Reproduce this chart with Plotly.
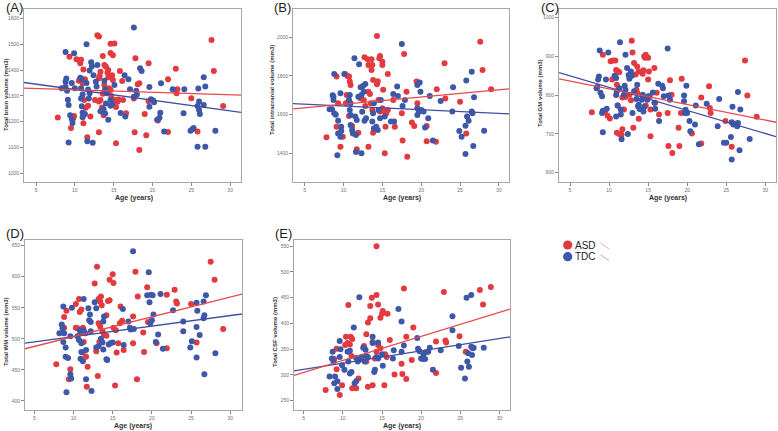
import plotly.graph_objects as go

# ---------------- data (age in years, volume in mm3) ----------------
tdc_A = [(8.8,1470),(9.9,1465),(11.5,1500),(17.6,1565),
(8.9,1367),(8.8,1355),(8.8,1335),(9.0,1320),(8.3,1330),
(9.1,1285),(9.2,1265),(9.4,1225),(9.6,1210),(9.7,1195),(9.2,1119),
(9.6,1350),(10.0,1330),
(10.7,1370),(10.9,1365),(10.8,1330),(11.0,1305),(10.8,1290),(10.9,1260),(11.0,1235),(11.0,1217),(11.3,1230),
(11.5,1350),(11.7,1325),(11.8,1290),(11.9,1310),
(12.1,1430),(12.2,1415),(11.9,1398),(12.4,1380),
(11.6,1124),(12.3,1118),
(12.9,1420),(12.7,1355),(12.8,1336),
(13.8,1359),(13.9,1326),(14.1,1310),
(13.7,1248),(13.9,1232),(13.3,1240),
(14.3,1207),(14.0,1270),(14.8,1268),(14.6,1262),(14.6,1285),(15.1,1342),
(15.9,1234),(16.5,1220),(16.4,1380),(16.9,1365),(17.1,1326),(17.6,1297),
(17.9,1320),(18.0,1305),
(18.4,1407),(18.6,1397),
(19.6,1334),(19.6,1258),(19.8,1287),(20.1,1282),(20.2,1275),
(20.6,1207),(20.9,1215),(21.0,1235),(21.5,1162),(21.1,1349),
(22.6,1326),(24.1,1326),(24.0,1233),
(24.9,1165),(25.1,1170),(25.3,1175),
(25.8,1103),(26.8,1103),
(25.9,1329),(26.0,1278),(25.8,1261),(26.0,1245),(26.1,1230),(26.6,1372),(26.6,1265),(26.8,1336),
(28.1,1165)]

asd_A = [(7.8,1216),(9.3,1452),(9.5,1175),(9.8,1213),(9.9,1222),
(10.2,1442),(10.6,1436),(10.8,1440),(10.7,1427),(11.1,1402),
(10.5,1359),(11.0,1349),(11.3,1365),
(11.2,1284),(11.4,1254),(11.1,1194),(11.6,1140),
(12.0,1220),(11.7,1262),
(12.9,1535),(13.1,1530),
(13.1,1368),(13.2,1377),(13.3,1394),
(12.6,1284),(13.1,1278),(13.3,1284),
(13.1,1159),
(13.6,1455),(13.8,1420),(14.0,1413),(14.2,1390),(14.3,1372),
(13.8,1342),(14.0,1326),(13.6,1308),
(13.5,1255),(13.7,1225),
(14.6,1466),(14.9,1458),
(14.6,1502),(15.1,1503),
(14.3,1400),(14.8,1380),(14.9,1362),
(14.4,1330),(14.6,1323),(14.7,1300),
(15.2,1284),(15.6,1286),(15.5,1277),(15.3,1257),
(15.3,1116),
(15.8,1397),(16.1,1358),
(16.6,1233),(16.2,1284),
(17.8,1446),(17.7,1159),(17.6,1290),
(18.1,1345),(18.3,1349),
(18.3,1090),
(19.0,1230),(19.2,1147),
(19.5,1427),(19.5,1279),(20.7,1205),
(22.0,1365),(22.0,1160),
(23.0,1405),(23.2,1326),(23.1,1310),
(25.0,1291),(25.8,1162),
(27.6,1517),(27.9,1397),
(29.1,1261)]

tdc_B = [(8.8,1810),(8.7,1693),(8.6,1700),(8.7,1676),(8.5,1628),(8.8,1607),(9.0,1600),(9.3,1569),(9.3,1503),(9.6,1486),(9.2,1390),
(8.2,1628),
(10.1,1810),(9.6,1710),(9.7,1538),(9.7,1515),
(10.8,1702),(10.7,1676),(10.9,1659),(10.8,1624),(10.9,1598),(10.9,1547),(11.1,1521),(11.2,1507),
(11.4,1891),(12.0,1860),
(11.5,1590),(11.7,1572),(11.6,1495),
(11.6,1407),(12.3,1400),
(11.9,1693),(12.2,1741),(12.5,1748),(12.8,1759),(12.6,1719),(12.3,1702),(12.4,1615),(12.7,1569),(12.9,1581),
(13.7,1564),(13.9,1529),(13.8,1607),(13.9,1659),
(14.2,1538),(14.4,1521),(14.7,1581),(14.5,1624),(14.8,1676),
(15.3,1590),(16.1,1564),(16.5,1564),(16.4,1707),(17.0,1697),(16.9,1745),
(17.5,1965),(17.6,1645),(17.9,1676),
(19.5,1753),(19.8,1766),(19.9,1719),(19.5,1633),(19.7,1616),(20.0,1624),(19.5,1598),(20.3,1616),(20.5,1534),(20.9,1581),
(21.1,1697),(21.5,1466),
(22.5,1671),
(24.0,1616),(24.1,1741),
(24.9,1516),(25.2,1486),
(25.7,1397),(25.8,1776),(25.7,1543),(25.9,1590),(26.1,1569),
(26.5,1822),(26.5,1616),(26.6,1607),(26.7,1438),(26.8,1690),
(28.1,1517)]

asd_B = [(7.8,1483),
(9.1,1797),(9.1,1538),(9.3,1659),
(9.6,1434),(9.9,1486),
(10.2,1810),(10.5,1800),(10.7,1797),(10.8,1771),(10.9,1753),(10.4,1702),(10.3,1659),
(10.7,1593),(11.1,1541),(11.2,1503),
(11.7,1421),(11.9,1507),
(12.2,1684),
(12.7,1897),(13.1,1886),(13.2,1857),
(12.6,1676),(12.8,1645),
(13.2,1434),(13.2,1719),(13.4,1707),
(13.6,1886),(13.7,1857),(13.6,1831),(13.8,1779),
(13.5,1659),(13.7,1624),
(13.8,1507),
(14.3,2007),(14.4,1772),(14.3,1757),
(14.7,1903),(14.6,1891),(15.0,1874),(15.0,1857),
(14.5,1676),
(14.7,1616),(15.0,1633),
(15.1,1729),(15.3,1616),
(15.4,1538),(15.5,1607),(15.7,1624),
(15.3,1400),
(15.7,1810),
(16.4,1676),
(16.6,1538),
(17.5,1607),(17.6,1466),
(17.8,1914),
(18.1,1719),(18.2,1383),
(18.8,1559),(19.1,1541),
(19.4,1771),(19.5,1659),
(20.7,1541),(20.7,1462),
(22.0,1731),(21.9,1460),
(23.0,1866),(23.1,1684),
(25.0,1667),(25.8,1503),
(27.6,1977),(27.9,1831),
(29.0,1731)]

tdc_C = [(8.8,915),(8.7,848),(8.6,840),(8.5,821),(8.4,818),(8.9,806),(9.1,797),
(9.1,754),(9.2,704),(9.2,760),
(9.9,910),(9.6,840),(9.7,765),
(10.7,850),(10.9,844),(10.9,800),(11.0,810),(10.9,745),(11.1,773),
(11.3,818),(11.4,936),(11.5,763),(11.5,750),
(11.6,686),(12.4,700),
(12.1,904),(12.3,870),(12.5,852),(12.6,842),
(12.0,824),(12.1,814),(11.9,801),
(12.8,861),(12.9,850),(13.0,754),
(13.2,810),(13.5,790),(13.6,827),(13.7,771),(13.9,764),(13.8,775),
(14.2,788),(14.3,801),
(14.4,758),(14.5,770),
(14.9,788),(15.0,797),
(15.8,780),(15.9,765),(15.6,807),
(16.3,829),(16.4,733),
(16.8,824),(16.9,818),(17.0,797),
(17.5,920),(17.6,799),
(17.8,788),
(19.6,799),(19.6,784),(19.7,754),(19.9,824),(20.0,754),(19.8,762),
(20.3,733),(20.4,707),
(21.0,724),(21.1,773),
(21.5,673),
(22.5,778),(24.1,790),(23.9,720),
(24.7,677),(25.0,677),
(25.6,692),(25.7,634),(25.8,770),(25.9,724),(25.7,730),(26.2,726),
(26.5,808),(26.5,728),(26.4,720),
(26.7,658),(26.8,763),
(28.0,687)]

asd_C = [(7.8,756),
(9.2,904),(9.5,758),(9.8,747),(10.1,740),
(10.2,887),(10.5,889),(10.8,889),(10.4,840),
(10.9,865),(11.1,862),(11.3,859),(11.0,827),
(11.1,773),(11.0,703),(11.3,700),
(11.6,698),(11.7,712),
(11.7,794),(11.9,763),
(12.1,795),
(12.9,940),(13.0,910),(13.2,883),
(12.6,801),(12.8,787),
(13.1,716),
(13.4,853),(13.6,874),(13.8,861),
(13.5,814),(13.6,806),
(13.8,739),
(14.3,855),(14.4,864),
(14.5,900),(14.7,904),(14.6,896),(15.0,896),
(14.8,793),(14.7,773),
(15.1,861),(15.0,840),
(15.2,797),(15.3,763),
(15.3,694),
(15.8,870),(15.9,780),
(16.1,806),(16.4,750),
(17.5,754),(17.6,669),
(17.8,838),
(18.0,801),(18.1,651),
(18.9,716),(19.0,669),
(19.3,842),(19.2,754),
(20.6,701),
(21.8,794),(21.8,675),
(22.8,823),(23.0,754),(22.9,767),
(24.9,733),
(25.7,667),
(27.4,889),(27.7,799),
(28.9,744)]

tdc_D = [(8.7,552),(8.5,523),(8.6,517),(8.2,509),(8.8,509),(8.7,495),(9.0,486),(9.0,471),(9.3,469),(9.1,414),(9.6,443),(9.7,436),
(9.8,550),(9.6,504),
(10.5,504),
(10.8,514),(10.9,509),(10.7,498),(11.0,493),(11.0,479),
(10.9,468),(11.2,464),
(11.3,564),
(11.3,514),(11.5,509),
(11.6,482),(11.6,435),
(11.9,549),(12.1,539),(12.0,530),(12.2,527),(12.3,416),
(12.2,512),
(12.7,559),(12.9,549),(12.9,486),(13.2,488),
(13.5,500),
(13.7,494),(13.8,483),
(13.9,536),(13.8,528),
(14.2,467),(14.3,466),
(14.5,491),(14.7,493),
(15.0,494),
(16.3,548),(16.4,490),
(17.0,528),(17.2,518),(17.3,515),
(17.6,641),
(17.7,516),
(19.4,570),(19.6,607),(19.7,559),(19.9,571),(20.1,570),(19.8,525),(20.0,530),
(20.2,539),
(20.5,495),(20.8,507),
(21.1,572),(21.4,484),
(22.7,546),
(24.0,528),(24.0,512),
(24.9,486),(25.1,496),
(25.7,558),(25.8,545),(25.7,519),(25.7,470),(26.1,506),
(26.6,560),(26.6,533),(26.7,538),(26.9,570),(26.7,443),
(28.1,477)]

asd_D = [(7.8,459),
(8.8,535),(9.1,545),(8.8,518),
(9.6,451),(9.4,435),
(10.3,556),(10.7,564),(10.8,543),(11.0,547),
(10.3,518),(10.5,517),
(11.2,518),
(11.2,478),(11.3,495),
(11.6,471),
(11.8,455),(11.7,423),
(12.7,589),(13.0,616),(13.2,564),(13.5,568),
(13.2,525),(13.4,520),
(13.3,495),(12.9,480),(13.1,440),
(13.6,554),(13.4,560),
(13.9,506),(14.2,505),(13.7,512),
(14.2,538),(14.4,561),(14.6,562),
(14.6,595),(15.1,590),(15.0,604),
(15.1,518),(15.4,514),
(15.5,478),
(15.3,425),
(15.7,493),
(15.9,525),
(16.0,552),(16.2,529),
(16.4,482),
(17.6,493),(17.6,536),
(17.9,608),
(18.2,568),
(18.1,435),
(18.9,510),(19.0,479),
(19.4,583),(19.5,527),
(20.6,493),
(21.9,571),(21.9,485),
(22.9,579),(23.1,560),(23.2,557),
(25.0,556),
(25.7,494),
(27.5,624),(28.0,595),
(29.1,516)]

tdc_E = [(8.3,297),(8.7,345),(8.6,332),(8.8,326),(9.0,297),(8.9,284),(9.3,288),(9.3,273),
(9.6,366),(9.7,350),(9.9,319),(9.6,335),
(10.2,310),
(10.6,345),(10.9,347),(10.7,326),(10.9,303),(11.1,306),
(11.4,392),(11.5,284),(11.7,288),
(11.7,333),(11.9,326),
(12.1,451),(12.1,329),(12.4,335),
(12.6,353),(12.9,349),(13.0,337),
(12.8,326),(13.2,335),
(13.8,374),(13.8,362),
(14.0,306),(14.1,310),
(14.3,335),(14.5,363),(14.5,332),
(15.0,340),(15.1,318),
(16.4,332),(16.5,348),
(17.1,428),(17.5,404),
(17.5,345),
(17.8,357),
(19.5,372),(19.6,351),(19.8,346),(20.0,332),(20.2,331),(20.5,331),(20.3,340),
(20.9,345),
(21.1,353),
(21.5,310),
(22.5,348),
(24.0,414),(24.0,387),
(24.8,356),
(25.1,314),
(25.6,293),(25.9,326),(25.8,450),(26.0,342),(26.1,316),
(26.4,455),(26.4,355),(26.6,352),(26.5,339),
(26.7,353),
(28.0,353)]

asd_E = [(7.8,271),
(8.9,331),(9.2,351),(9.2,311),(9.6,261),(9.9,280),
(10.3,358),(10.4,374),(10.6,362),
(10.7,436),(10.9,359),(11.0,374),(11.2,370),
(11.1,337),(11.2,274),
(11.7,274),
(12.0,293),
(12.7,356),(13.0,379),
(13.0,326),
(13.2,402),(13.5,410),
(13.2,277),
(13.5,434),(13.7,450),(13.8,364),(13.8,280),
(14.1,332),(14.3,345),
(14.3,455),(14.3,550),(14.5,437),
(14.5,358),(14.8,352),
(14.8,411),(15.0,419),(15.1,424),
(15.3,280),
(15.4,340),(15.6,335),
(15.7,419),
(16.0,368),
(16.6,301),
(17.5,322),(17.6,302),
(17.8,468),
(18.1,374),(18.1,292),
(19.0,392),(18.8,329),
(20.6,344),
(21.9,365),(21.9,304),
(22.9,461),(23.1,367),(23.2,363),
(24.9,375),
(25.7,345),
(27.5,465),(27.9,437),
(28.9,471)]

# fitted regression lines: volume at the left and right edge of the age axis
fit_asd_A = [1330, 1303]; fit_tdc_A = [1352, 1236]
fit_asd_B = [1630, 1733]; fit_tdc_B = [1657, 1604]
fit_asd_C = [842, 730];   fit_tdc_C = [858, 693]
fit_asd_D = [484, 572];   fit_tdc_D = [493, 540]
fit_asd_E = [299, 428];   fit_tdc_E = [308, 374]

panel_labels = ["(A)", "(B)", "(C)", "(D)", "(E)"]
y_titles = ["Total brain volume (mm3)", "Total intracranial volume (mm3)",
            "Total GM volume (mm3)", "Total WM volume (mm3)", "Total CSF volume (mm3)"]
x_title = "Age (years)"
x_ticks = [5, 10, 15, 20, 25, 30]
y_ticks_A = [1000, 1100, 1200, 1300, 1400, 1500, 1600]
y_ticks_B = [1400, 1600, 1800, 2000]
y_ticks_C = [600, 700, 800, 900, 1000]
y_ticks_D = [400, 450, 500, 550, 600, 650]
y_ticks_E = [250, 300, 350, 400, 450, 500, 550]
groups = ["ASD", "TDC"]

# ---------------- layout helpers ----------------
W, H = 778, 431
RED, BLUE = "#E23A3F", "#3D58A8"
RED_L, BLUE_L = "#E8474C", "#3F4FA0"
FONT = "Liberation Sans, Arial, sans-serif"

def xdom(a, b):
    return [a / W, b / W]

def ydom(top, bottom):
    return [1 - bottom / H, 1 - top / H]

# pixel placement: frame box, x-title centre, y-title centre, panel label centre
panels = [
    dict(tdc=tdc_A, asd=asd_A, fa=fit_asd_A, ft=fit_tdc_A, yt=y_ticks_A,
         box=(24, 241, 9, 182), xr=[3.45, 31.4], yr=[966, 1637],
         xt=(134, 198), ytc=(6, 95), lab=(4, 7.5)),
    dict(tdc=tdc_B, asd=asd_B, fa=fit_asd_B, ft=fit_tdc_B, yt=y_ticks_B,
         box=(293, 509, 9, 182), xr=[3.49, 31.3], yr=[1252, 2146],
         xt=(402, 198), ytc=(272, 90), lab=(272, 7.5)),
    dict(tdc=tdc_C, asd=asd_C, fa=fit_asd_C, ft=fit_tdc_C, yt=y_ticks_C,
         box=(559, 776, 9, 182), xr=[3.59, 31.37], yr=[576, 1022],
         xt=(668, 198), ytc=(540, 93), lab=(539, 7.5)),
    dict(tdc=tdc_D, asd=asd_D, fa=fit_asd_D, ft=fit_tdc_D, yt=y_ticks_D,
         box=(25, 242, 240, 410), xr=[3.81, 31.5], yr=[385.5, 659],
         xt=(133, 425.5), ytc=(6, 332), lab=(4, 233.5)),
    dict(tdc=tdc_E, asd=asd_E, fa=fit_asd_E, ft=fit_tdc_E, yt=y_ticks_E,
         box=(294, 510, 240, 410), xr=[3.76, 31.35], yr=[232, 562],
         xt=(402, 425.5), ytc=(275, 332), lab=(273, 233.5)),
]

fig = go.Figure()
layout = dict(width=W, height=H, margin=dict(l=0, r=0, t=0, b=0),
              paper_bgcolor="white", plot_bgcolor="white", showlegend=False,
              font=dict(family=FONT))
annotations = []

for i, p in enumerate(panels):
    n = "" if i == 0 else str(i + 1)
    xa, ya = "x" + n, "y" + n
    l, r, t, b = p["box"]
    for pts, col, name in ((p["asd"], RED, groups[0]), (p["tdc"], BLUE, groups[1])):
        fig.add_trace(go.Scatter(
            x=[a for a, v in pts], y=[v for a, v in pts], mode="markers", name=name,
            xaxis=xa, yaxis=ya, marker=dict(size=6, color=col, line=dict(width=0))))
    for fit, col, name in ((p["ft"], BLUE_L, groups[1]), (p["fa"], RED_L, groups[0])):
        fig.add_trace(go.Scatter(
            x=p["xr"], y=fit, mode="lines", name=name + " fit", xaxis=xa, yaxis=ya,
            line=dict(color=col, width=1.3)))
    layout["xaxis" + n] = dict(
        domain=xdom(l, r), range=p["xr"], anchor=ya, tickvals=x_ticks,
        showline=True, mirror=True, linecolor="#A8A8A8", linewidth=1,
        ticks="outside", ticklen=3, tickcolor="#888888",
        tickfont=dict(size=5, color="#707070"), showgrid=False, zeroline=False,
        automargin=False)
    layout["yaxis" + n] = dict(
        domain=ydom(t, b), range=p["yr"], anchor=xa, tickvals=p["yt"],
        showline=True, mirror=True, linecolor="#A8A8A8", linewidth=1,
        ticks="outside", ticklen=3, tickcolor="#888888",
        tickfont=dict(size=5, color="#707070"), showgrid=False, zeroline=False,
        automargin=False)
    # axis titles
    annotations.append(dict(
        text="<b>" + x_title + "</b>", xref="paper", yref="paper",
        x=p["xt"][0] / W, y=1 - p["xt"][1] / H, xanchor="center", yanchor="middle",
        showarrow=False, font=dict(size=7, color="#333333")))
    annotations.append(dict(
        text="<b>" + y_titles[i] + "</b>", xref="paper", yref="paper", textangle=-90,
        x=p["ytc"][0] / W, y=1 - p["ytc"][1] / H, xanchor="center", yanchor="middle",
        showarrow=False, font=dict(size=6, color="#333333")))
    # panel label
    annotations.append(dict(
        text=panel_labels[i], xref="paper", yref="paper",
        x=p["lab"][0] / W, y=1 - p["lab"][1] / H,
        xanchor="left", yanchor="middle", showarrow=False,
        font=dict(size=13, color="#222222")))

# legend (drawn manually to mimic the original)
shapes = []
leg_x, leg_y = 567.7, [245, 256.7]
for k, (name, col, lcol) in enumerate(((groups[0], RED, "#F2A6A8"), (groups[1], BLUE, "#A6AED6"))):
    cy = leg_y[k]
    rr = 4.6
    shapes.append(dict(type="circle", xref="paper", yref="paper",
                       x0=(leg_x - rr) / W, x1=(leg_x + rr) / W,
                       y0=1 - (cy + rr) / H, y1=1 - (cy - rr) / H,
                       fillcolor=col, line=dict(width=0)))
    shapes.append(dict(type="line", xref="paper", yref="paper",
                       x0=600.5 / W, x1=609 / W, y0=1 - (cy - 2) / H, y1=1 - (cy + 4) / H,
                       line=dict(color=lcol, width=1)))
    annotations.append(dict(text=name, xref="paper", yref="paper",
                            x=572.5 / W, y=1 - cy / H, xanchor="left", yanchor="middle",
                            showarrow=False, font=dict(size=10, color="#222222")))

layout["annotations"] = annotations
layout["shapes"] = shapes
fig.update_layout(**layout)
# remove the browser's default page margin so the figure sits at the top-left corner
fig.write_html("out.html", config={"displayModeBar": False},
               post_script="document.body.style.margin='0';document.body.style.overflow='hidden';")
